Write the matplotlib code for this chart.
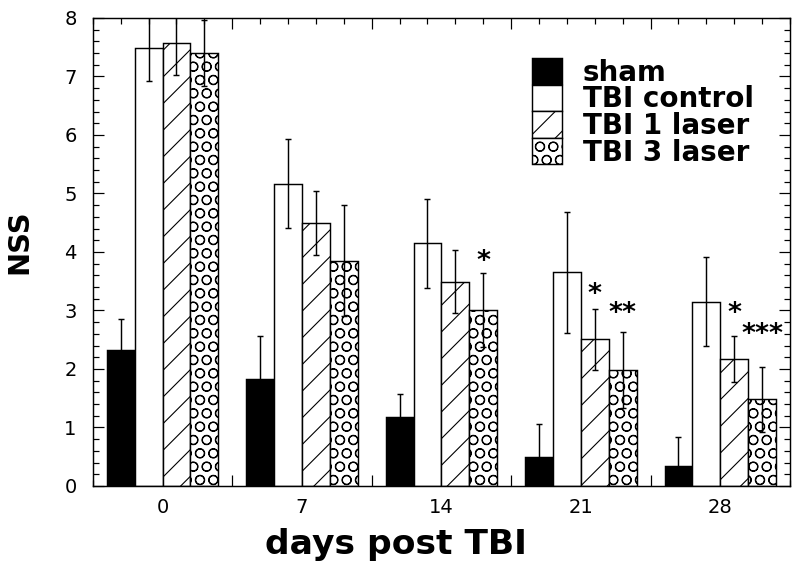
import numpy as np
import matplotlib.pyplot as plt
from matplotlib.ticker import MultipleLocator, FixedLocator

# Werte (NSS je Gruppe, Fehlerbalken symmetrisch)
days = ["0", "7", "14", "21", "28"]
groups = ["sham", "TBI control", "TBI 1 laser", "TBI 3 laser"]

sham = [2.32, 1.83, 1.18, 0.50, 0.34]
sham_err = [0.53, 0.74, 0.40, 0.56, 0.49]
control = [7.48, 5.17, 4.15, 3.65, 3.15]
control_err = [0.55, 0.76, 0.76, 1.03, 0.76]
laser1 = [7.58, 4.49, 3.49, 2.51, 2.17]
laser1_err = [0.55, 0.55, 0.54, 0.52, 0.40]
laser3 = [7.40, 3.85, 3.01, 1.98, 1.48]
laser3_err = [0.56, 0.95, 0.63, 0.65, 0.56]

# Signifikanz-Sterne: (Gruppe, Balken, Text, Hoehe)
stars = [(2, 3, "*", 3.83), (3, 2, "*", 3.27), (3, 3, "**", 2.94),
         (4, 2, "*", 2.94), (4, 3, "***", 2.58)]

plt.rcParams["font.family"] = ["DejaVu Sans"]
plt.rcParams["hatch.linewidth"] = 1.0

# dpi 80 -> Schraffur etwas groeber, naeher an der Vorlage
fig = plt.figure(figsize=(10, 7.1), dpi=80)
ax = fig.add_axes([0.116, 0.1444, 0.8715, 0.824])

x = np.arange(len(days))
w = 0.2
values = [sham, control, laser1, laser3]
errors = [sham_err, control_err, laser1_err, laser3_err]
faces = ["black", "white", "white", "white"]
hatches = [None, None, "/", "O"]

for i, (vals, errs) in enumerate(zip(values, errors)):
    pos = x + (i - 1.5) * w
    ax.bar(pos, vals, w, color=faces[i], edgecolor="black", linewidth=1.3,
           hatch=hatches[i], label=groups[i], zorder=2)
    ax.errorbar(pos, vals, yerr=errs, fmt="none", ecolor="black",
                elinewidth=1.3, capsize=3.1, capthick=1.3, zorder=3)

for g, b, txt, h in stars:
    ax.text(x[g] + (b - 1.5) * w, h, txt, ha="center", va="center",
            fontsize=24, fontweight="bold")

ax.set_xlim(-0.5, 4.5)
ax.set_ylim(0, 8)

# Ticks nach innen, auf allen Seiten
ax.xaxis.set_major_locator(FixedLocator([0.5, 1.5, 2.5, 3.5]))
ax.xaxis.set_minor_locator(MultipleLocator(0.2, offset=0.1))
ax.set_xticklabels([])
ax.yaxis.set_major_locator(MultipleLocator(1))
ax.yaxis.set_minor_locator(MultipleLocator(0.2))
ax.tick_params(which="both", direction="in", top=True, right=True, width=1.1)
ax.tick_params(which="major", length=10)
ax.tick_params(which="minor", length=5.4)
ax.tick_params(axis="y", labelsize=17.5, pad=14.5)
for s in ax.spines.values():
    s.set_linewidth(1.3)

# Tagesbeschriftung in der Gruppenmitte ohne eigenen Tick
sec = ax.secondary_xaxis("bottom")
sec.set_xticks(x)
sec.set_xticklabels(days)
sec.tick_params(length=0, labelsize=17.5, pad=10.8)
sec.spines["bottom"].set_visible(False)

ax.set_xlabel("days post TBI", fontsize=31, fontweight="bold", labelpad=35)
ax.xaxis.set_label_coords(0.435, -0.09)
ax.xaxis.label.set_va("top")
ax.set_ylabel("NSS", fontsize=26, fontweight="bold", labelpad=26)
ax.yaxis.set_label_coords(-0.085, 0.521)

ax.legend(loc="upper left", bbox_to_anchor=(532 / 800, 1 - 58 / 568),
          bbox_transform=fig.transFigure, frameon=False, borderpad=0,
          borderaxespad=0, labelspacing=-0.07, handlelength=1.08,
          handleheight=1.08, handletextpad=0.75,
          prop={"size": 25, "weight": "bold"})

plt.savefig("out.png", dpi=80)
plt.close()
